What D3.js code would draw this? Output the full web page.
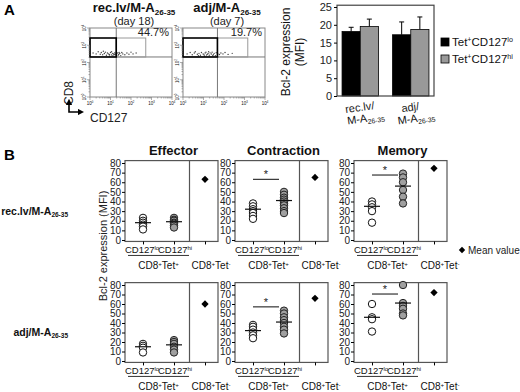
<!DOCTYPE html>
<html>
<head>
<meta charset="utf-8">
<script src="https://cdn.jsdelivr.net/npm/d3@7"></script>
<style>
  body { margin: 0; background: #fff; }
  svg { display: block; font-family: Arial, "Liberation Sans", sans-serif; }
</style>
</head>
<body>
<script>
// ---- panel A: flow plots ----
const flowTitles = ["rec.lv/M-A", "adj/M-A"];
const flowDays = ["(day 18)", "(day 7)"];
const flowPct = ["44.7%", "19.7%"];
const flowDecades = [0, 1, 2, 3, 4];
// gates in log10 units: [CD127 split, CD127 hi edge]
const flowGateX = [[1.28, 2.72], [1.68, 3.16]];
const flowGateY = [2.32, 3.42];
const flowDots1 = [[0.15,2.55],[0.3,2.5],[0.4,2.62],[0.5,2.48],[0.55,2.58],[0.62,2.45],[0.7,2.52],[0.75,2.6],
  [0.8,2.42],[0.85,2.55],[0.9,2.5],[0.95,2.47],[1.0,2.58],[1.05,2.44],[1.1,2.53],[1.12,2.4],[1.15,2.49],
  [1.2,2.56],[1.22,2.45],[1.25,2.5],[1.3,2.42],[1.35,2.55],[1.4,2.47],[1.45,2.52],[1.5,2.4],[1.55,2.58],
  [1.6,2.5],[1.7,2.45],[1.8,2.55],[1.9,2.48],[2.0,2.6],[2.1,2.5],[2.25,2.55],[0.95,2.38],[1.05,2.62],
  [1.28,2.6],[1.38,2.43],[0.65,2.65],[1.18,2.47],[1.42,2.58]];
const flowDots2 = [[0.2,2.5],[0.35,2.58],[0.45,2.45],[0.55,2.55],[0.6,2.62],[0.7,2.48],[0.78,2.53],[0.85,2.42],
  [0.9,2.58],[0.98,2.5],[1.02,2.45],[1.08,2.55],[1.12,2.6],[1.18,2.47],[1.22,2.52],[1.28,2.42],[1.32,2.56],
  [1.38,2.49],[1.42,2.6],[1.48,2.45],[1.52,2.53],[1.58,2.4],[1.62,2.57],[1.7,2.5],[1.78,2.46],[1.85,2.55],
  [1.95,2.5],[2.05,2.58],[2.2,2.47],[2.4,2.53],[1.05,2.38],[1.25,2.62],[0.75,2.4],[1.45,2.4],[1.15,2.43]];

// ---- panel A: bar chart ----
const barGroups = ["rec.lv/", "adj/"];
const barLo = [18.1, 17.2];
const barHi = [19.5, 18.7];
const errLo = [1.2, 3.6];
const errHi = [2.1, 3.5];
const barTicks = [0, 5, 10, 15, 20, 25];

// ---- panel B ----
const phases = ["Effector", "Contraction", "Memory"];
const cats = ["lo", "hi", "neg"];
const bTicks = [0, 10, 20, 30, 40, 50, 60, 70, 80];
const r1Lo = [[23, 20, 18, 16, 14, 11], [38, 35, 32, 30, 28, 25, 22], [40, 37, 34, 30, 18]];
const r1Hi = [[23, 21, 20, 18, 17, 15, 13], [50, 47, 44, 42, 40, 38, 36, 33, 30, 28], [69, 65, 60, 52, 45, 38]];
const r1LoMean = [18, 32, 35];
const r1HiMean = [19, 41, 56];
const r1Neg = [63, 65, 74.5];
const r1Sig = [null, 63, 67.5];
const r2Lo = [[18, 16, 14, 9], [38, 36, 33, 30, 27, 24], [60, 46, 44, 31]];
const r2Hi = [[22, 20, 18, 15, 12, 9], [53, 50, 46, 43, 40, 36, 33, 29], [80, 61, 58, 55, 50, 48]];
const r2LoMean = [15, 32, 46];
const r2HiMean = [17, 41, 61];
const r2Neg = [60, 66, 72];
const r2Sig = [null, 57, 70.5];

const svg = d3.select("body").append("svg").attr("width", 520).attr("height", 392);

// text with sub/superscripts: parts = [[text, null|"sub"|"sup"], ...]
function rich(sel, x, y, parts, size, opts = {}) {
  const t = sel.append("text").attr("x", x).attr("y", y)
    .attr("font-size", size)
    .attr("text-anchor", opts.anchor || "start")
    .attr("font-weight", opts.bold ? "bold" : null)
    .attr("fill", "#111");
  if (opts.transform) t.attr("transform", opts.transform);
  let off = 0;
  parts.forEach(([s, k]) => {
    const target = k === "sub" ? size * 0.2 : k === "sup" ? -size * 0.38 : 0;
    t.append("tspan").text(s).attr("dy", target - off)
      .attr("font-size", k ? size * 0.62 : size);
    off = target;
  });
  return t;
}

// ===== A =====
svg.append("text").attr("x", 4).attr("y", 15).attr("font-size", 15).attr("font-weight", "bold").text("A");

const flowLeft = [90, 183], flowW = 82, flowTop = 28, flowBot = 97;
[flowDots1, flowDots2].forEach((dots, i) => {
  const fx = d3.scaleLinear().domain([0, 4]).range([flowLeft[i], flowLeft[i] + flowW]);
  const fy = d3.scaleLinear().domain([0, 4]).range([flowBot, flowTop]);
  const g = svg.append("g");
  const cx = (flowLeft[i] + flowW / 2) + 3;
  rich(g, cx, 12, [[flowTitles[i], null], ["26-35", "sub"]], 13, { anchor: "middle", bold: true });
  g.append("text").attr("x", cx).attr("y", 25).attr("text-anchor", "middle").attr("font-size", 11)
    .attr("fill", "#222").text(flowDays[i]);

  g.append("rect").attr("x", fx(0)).attr("y", fy(4)).attr("width", fx(4) - fx(0)).attr("height", fy(0) - fy(4))
    .attr("fill", "none").attr("stroke", "#888").attr("stroke-width", 1);
  g.append("line").attr("x1", fx(flowGateX[i][0])).attr("x2", fx(flowGateX[i][0]))
    .attr("y1", fy(0)).attr("y2", fy(4)).attr("stroke", "#777");
  g.append("line").attr("x1", fx(0)).attr("x2", fx(4))
    .attr("y1", fy(flowGateY[0])).attr("y2", fy(flowGateY[0])).attr("stroke", "#777");
  g.append("rect").attr("x", fx(flowGateX[i][0])).attr("y", fy(flowGateY[1]))
    .attr("width", fx(flowGateX[i][1]) - fx(flowGateX[i][0]))
    .attr("height", fy(flowGateY[0]) - fy(flowGateY[1]))
    .attr("fill", "none").attr("stroke", "#999");
  g.selectAll(".dot").data(dots).join("circle")
    .attr("cx", d => fx(d[0])).attr("cy", d => fy(d[1])).attr("r", 0.7).attr("fill", "#444");
  g.append("rect").attr("x", fx(0)).attr("y", fy(flowGateY[1]))
    .attr("width", fx(flowGateX[i][0]) - fx(0))
    .attr("height", fy(flowGateY[0]) - fy(flowGateY[1]))
    .attr("fill", "none").attr("stroke", "#000").attr("stroke-width", 1.6);
  g.append("text").attr("x", fx(4) - 3).attr("y", 36).attr("text-anchor", "end")
    .attr("font-size", 11).attr("fill", "#222").text(flowPct[i]);

  // log axes with minor ticks
  const minor = [];
  flowDecades.slice(0, 4).forEach(d => { for (let k = 2; k < 10; k++) minor.push(d + Math.log10(k)); });
  const ax = g.append("g").attr("stroke", "#777").attr("stroke-width", 0.6);
  flowDecades.forEach(d => {
    ax.append("line").attr("x1", fx(d)).attr("x2", fx(d)).attr("y1", fy(0)).attr("y2", fy(0) + 3);
    ax.append("line").attr("y1", fy(d)).attr("y2", fy(d)).attr("x1", fx(0)).attr("x2", fx(0) - 3);
  });
  minor.forEach(d => {
    ax.append("line").attr("x1", fx(d)).attr("x2", fx(d)).attr("y1", fy(0)).attr("y2", fy(0) + 1.5);
    ax.append("line").attr("y1", fy(d)).attr("y2", fy(d)).attr("x1", fx(0)).attr("x2", fx(0) - 1.5);
  });
  flowDecades.forEach(d => {
    rich(g, fx(d), fy(0) + 8, [["10", null], [String(d), "sup"]], 4.5, { anchor: "middle" });
    rich(g, fx(0) - 4, fy(d), [["10", null], [String(d), "sup"]], 4.5,
      { anchor: "middle", transform: `rotate(-90,${fx(0) - 4},${fy(d)})` });
  });
});

// CD8 / CD127 labels and arrows
svg.append("text").attr("x", 0).attr("y", 0).attr("font-size", 12).attr("fill", "#222")
  .attr("text-anchor", "middle").attr("transform", "translate(73,93) rotate(-90)").text("CD8");
const defs = svg.append("defs");
defs.append("marker").attr("id", "ah").attr("viewBox", "0 0 10 10").attr("refX", 5).attr("refY", 5)
  .attr("markerWidth", 4).attr("markerHeight", 4).attr("orient", "auto")
  .append("path").attr("d", "M0,0L10,5L0,10z").attr("fill", "#000");
svg.append("path").attr("d", "M69,104L69,112L79,112").attr("fill", "none").attr("stroke", "#000")
  .attr("stroke-width", 1.6);
svg.append("path").attr("d", "M69,105L69,102").attr("stroke", "#000").attr("stroke-width", 1.6).attr("marker-end", "url(#ah)");
svg.append("path").attr("d", "M78,112L81,112").attr("stroke", "#000").attr("stroke-width", 1.6).attr("marker-end", "url(#ah)");
svg.append("text").attr("x", 90).attr("y", 122).attr("font-size", 12).attr("fill", "#222").text("CD127");

// bar chart
const bx0 = d3.scaleBand().domain(barGroups).range([337, 434]).paddingInner(0.28).paddingOuter(0.1);
const bx1 = d3.scaleBand().domain(["lo", "hi"]).range([0, bx0.bandwidth()]);
const by = d3.scaleLinear().domain([0, 25]).range([96, 7]);
const bar = svg.append("g");
barGroups.forEach((grp, i) => {
  [["lo", barLo[i], errLo[i], "#000"], ["hi", barHi[i], errHi[i], "#999"]].forEach(([s, v, e, c]) => {
    const x = bx0(grp) + bx1(s), w = bx1.bandwidth();
    bar.append("line").attr("x1", x + w / 2).attr("x2", x + w / 2).attr("y1", by(v)).attr("y2", by(v + e))
      .attr("stroke", "#000").attr("stroke-width", 1);
    bar.append("line").attr("x1", x + w / 2 - 2.5).attr("x2", x + w / 2 + 2.5).attr("y1", by(v + e)).attr("y2", by(v + e))
      .attr("stroke", "#000").attr("stroke-width", 1);
    bar.append("rect").attr("x", x).attr("y", by(v)).attr("width", w).attr("height", by(0) - by(v))
      .attr("fill", c).attr("stroke", "#000").attr("stroke-width", 0.8);
  });
});
bar.append("rect").attr("x", 337).attr("y", by(25.5)).attr("width", 97).attr("height", by(0) - by(25.5))
  .attr("fill", "none").attr("stroke", "#444").attr("stroke-width", 1.2);
const bAxis = bar.append("g").attr("transform", "translate(337,0)")
  .call(d3.axisLeft(by).tickValues(barTicks).tickSize(3).tickPadding(2));
bAxis.select(".domain").remove();
bAxis.selectAll("text").attr("font-size", 11).attr("fill", "#222").attr("font-family", null);
rich(bar, 0, 0, [["Bcl-2 expression", null]], 12, { anchor: "middle", transform: "translate(290,52) rotate(-90)" });
rich(bar, 0, 0, [["(MFI)", null]], 12, { anchor: "middle", transform: "translate(304,52) rotate(-90)" });
barGroups.forEach((grp, i) => {
  const cx = bx0(grp) + bx0.bandwidth() / 2;
  bar.append("text").attr("font-size", 11).attr("fill", "#222").attr("text-anchor", "middle")
    .attr("transform", `translate(${cx},111) rotate(-8)`).text(grp);
  rich(bar, 0, 0, [["M-A", null], ["26-35", "sub"]], 11,
    { anchor: "middle", transform: `translate(${cx + 6},122) rotate(-8)` });
});
// legend
[["lo", "#000"], ["hi", "#999"]].forEach(([s, c], i) => {
  bar.append("rect").attr("x", 441).attr("y", 38 + i * 17).attr("width", 8).attr("height", 8)
    .attr("fill", c).attr("stroke", "#000").attr("stroke-width", 0.8);
  rich(bar, 452, 46 + i * 17, [["Tet", null], ["+", "sup"], ["CD127", null], [s, "sup"]], 11.5);
});

// ===== B =====
svg.append("text").attr("x", 4).attr("y", 160).attr("font-size", 15).attr("font-weight", "bold").text("B");
rich(svg, 68, 215, [["rec.lv/M-A", null], ["26-35", "sub"]], 10.5, { anchor: "end", bold: true });
rich(svg, 68, 336, [["adj/M-A", null], ["26-35", "sub"]], 10.5, { anchor: "end", bold: true });
svg.append("text").attr("font-size", 11).attr("fill", "#222").attr("text-anchor", "middle")
  .attr("transform", "translate(107,246) rotate(-90)").text("Bcl-2 expression (MFI)");

const plotLeft = [125, 235, 354], plotW = 93;
const rowRange = [[240, 163], [361, 285]];
const rowsData = [
  { lo: r1Lo, hi: r1Hi, loM: r1LoMean, hiM: r1HiMean, neg: r1Neg, sig: r1Sig },
  { lo: r2Lo, hi: r2Hi, loM: r2LoMean, hiM: r2HiMean, neg: r2Neg, sig: r2Sig }
];
const diamond = d3.symbol().type(d3.symbolDiamond2).size(34);

phases.forEach((ph, p) => {
  svg.append("text").attr("x", plotLeft[p] + plotW / 2 + 2).attr("y", 155).attr("text-anchor", "middle")
    .attr("font-size", 13).attr("font-weight", "bold").attr("fill", "#111").text(ph);
});

rowsData.forEach((row, r) => {
  const y = d3.scaleLinear().domain([0, 80]).range(rowRange[r]);
  phases.forEach((ph, p) => {
    const x = d3.scalePoint().domain(cats).range([plotLeft[p] + 18, plotLeft[p] + 80]);
    const g = svg.append("g");
    const x0 = plotLeft[p];
    g.append("rect").attr("x", x0).attr("y", y(82.5)).attr("width", plotW).attr("height", y(-1.5) - y(82.5))
      .attr("fill", "none").attr("stroke", "#555").attr("stroke-width", 1.2);
    const div = (x("hi") + x("neg")) / 2;
    g.append("line").attr("x1", div).attr("x2", div).attr("y1", y(82.5)).attr("y2", y(-1.5))
      .attr("stroke", "#555").attr("stroke-width", 1.2);
    const ya = g.append("g").attr("transform", `translate(${x0},0)`)
      .call(d3.axisLeft(y).tickValues(bTicks).tickSize(3).tickPadding(1));
    ya.select(".domain").remove();
    ya.selectAll("text").attr("font-size", 10).attr("fill", "#222").attr("font-family", null);
    const xa = g.append("g").attr("transform", `translate(0,${y(-1.5)})`)
      .call(d3.axisBottom(x).tickSize(3).tickFormat(""));
    xa.select(".domain").remove();

    // points
    g.selectAll(".lo").data(row.lo[p]).join("circle")
      .attr("cx", x("lo")).attr("cy", d => y(d)).attr("r", 3.7)
      .attr("fill", "#fff").attr("stroke", "#111").attr("stroke-width", 1);
    g.selectAll(".hi").data(row.hi[p]).join("circle")
      .attr("cx", x("hi")).attr("cy", d => y(d)).attr("r", 3.7)
      .attr("fill", "#a0a0a0").attr("stroke", "#222").attr("stroke-width", 1);
    [["lo", row.loM[p]], ["hi", row.hiM[p]]].forEach(([c, m]) => {
      g.append("line").attr("x1", x(c) - 8).attr("x2", x(c) + 8).attr("y1", y(m)).attr("y2", y(m))
        .attr("stroke", "#111").attr("stroke-width", 1.2);
    });
    g.append("path").attr("d", diamond).attr("transform", `translate(${x("neg")},${y(row.neg[p])})`)
      .attr("fill", "#000");
    if (row.sig[p] != null) {
      g.append("line").attr("x1", x("lo")).attr("x2", x("hi") - 5).attr("y1", y(row.sig[p])).attr("y2", y(row.sig[p]))
        .attr("stroke", "#333").attr("stroke-width", 1.2);
      g.append("text").attr("x", (x("lo") + x("hi") - 5) / 2).attr("y", y(row.sig[p]) - 1)
        .attr("text-anchor", "middle").attr("font-size", 11).attr("fill", "#222").text("*");
    }
    // category labels
    const base = y(-1.5) + 12;
    rich(g, x("lo") - 1, base, [["CD127", null], ["lo", "sup"]], 9.5, { anchor: "middle" });
    rich(g, x("hi") + 1, base, [["CD127", null], ["hi", "sup"]], 9.5, { anchor: "middle" });
    g.append("line").attr("x1", x("lo") - 15).attr("x2", x("hi") + 15).attr("y1", base + 2).attr("y2", base + 2)
      .attr("stroke", "#333").attr("stroke-width", 1);
    rich(g, (x("lo") + x("hi")) / 2, base + 16, [["CD8", null], ["+", "sup"], ["Tet", null], ["+", "sup"]], 10, { anchor: "middle" });
    rich(g, x("neg") + 6, base + 16, [["CD8", null], ["+", "sup"], ["Tet", null], ["-", "sup"]], 10, { anchor: "middle" });
  });
});

// mean value legend
svg.append("path").attr("d", d3.symbol().type(d3.symbolDiamond2).size(26)).attr("transform", "translate(462,250)")
  .attr("fill", "#000");
svg.append("text").attr("x", 468).attr("y", 254).attr("font-size", 10).attr("fill", "#222").text("Mean value");
</script>
</body>
</html>
